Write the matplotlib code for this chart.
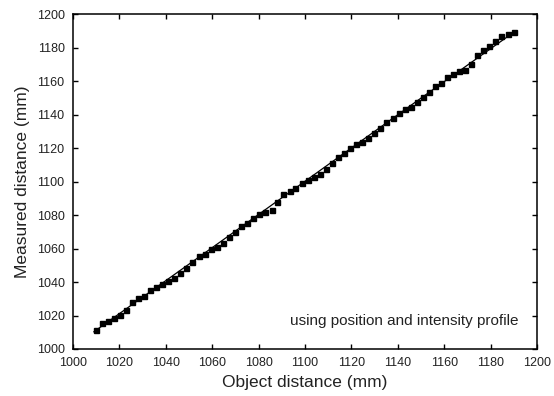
import matplotlib
matplotlib.use("Agg")
import matplotlib.pyplot as plt

# measured points
obj_dist = [1009.8, 1012.6, 1015.2, 1017.8, 1020.4, 1023.0, 1025.5, 1028.1, 1030.7, 1033.3,
            1035.9, 1038.5, 1041.0, 1043.6, 1046.3, 1048.9, 1051.5, 1054.1, 1056.7, 1059.4,
            1062.0, 1064.6, 1067.3, 1069.8, 1072.6, 1075.1, 1077.6, 1080.2, 1082.8, 1085.6,
            1088.1, 1090.7, 1093.4, 1095.9, 1098.6, 1101.2, 1103.8, 1106.4, 1108.9, 1111.7,
            1114.2, 1116.9, 1119.5, 1122.1, 1124.7, 1127.2, 1129.8, 1132.5, 1135.1, 1137.9,
            1140.5, 1143.1, 1145.7, 1148.2, 1150.8, 1153.4, 1156.0, 1158.6, 1161.2, 1163.8,
            1166.4, 1169.0, 1171.6, 1174.3, 1176.9, 1179.5, 1182.1, 1184.7, 1187.3, 1190.0]
meas_dist = [1011.2, 1015.4, 1016.7, 1018.4, 1020.3, 1023.1, 1028.1, 1030.3, 1031.9, 1035.3,
             1036.9, 1038.7, 1040.5, 1042.7, 1045.3, 1048.7, 1051.9, 1055.5, 1056.8, 1059.8,
             1060.8, 1063.2, 1067.1, 1069.8, 1073.3, 1075.1, 1078.1, 1080.5, 1082.2, 1083.2,
             1087.6, 1092.4, 1094.6, 1096.4, 1099.1, 1100.9, 1103.0, 1104.9, 1107.4, 1111.0,
             1114.6, 1116.9, 1120.4, 1122.4, 1124.0, 1126.2, 1129.1, 1132.4, 1135.9, 1137.9,
             1141.2, 1143.4, 1144.8, 1147.6, 1150.5, 1153.4, 1157.4, 1159.0, 1162.4, 1164.6,
             1166.3, 1166.8, 1170.6, 1175.6, 1179.0, 1181.2, 1184.1, 1187.2, 1188.3, 1189.5]

# fitted line vertices
fit_x = [1009.0, 1060.0, 1100.0, 1150.0, 1189.3]
fit_y = [1010.3, 1060.6, 1100.3, 1150.0, 1188.7]

ticks = list(range(1000, 1201, 20))

plt.rcParams["font.family"] = ["Liberation Sans", "DejaVu Sans"]

fig = plt.figure(figsize=(5.54, 3.96), dpi=100)
ax = fig.add_axes([0.1318, 0.1187, 0.8375, 0.8447])

ax.plot(fit_x, fit_y, color="black", linewidth=0.9)
ax.plot(obj_dist, meas_dist, linestyle="none", marker="s", markersize=3.6,
        color="black")

ax.set_xlim(1000, 1200)
ax.set_ylim(1000, 1200)
ax.set_xticks(ticks)
ax.set_yticks(ticks)
ax.tick_params(direction="in", top=True, right=True, length=3.5, width=1.0,
               labelsize=9, labelcolor="#222222")
ax.tick_params(axis="x", pad=6)
ax.tick_params(axis="y", pad=6)
for s in ax.spines.values():
    s.set_linewidth(1.1)

ax.set_xlabel("Object distance (mm)", fontsize=12.5, labelpad=4, color="#222222")
ax.set_ylabel("Measured distance (mm)", fontsize=12.5, labelpad=5, color="#222222")
ax.text(1192, 1017, "using position and intensity profile", fontsize=11,
        ha="right", va="center", color="#222222")

fig.savefig("out.png", dpi=100)
